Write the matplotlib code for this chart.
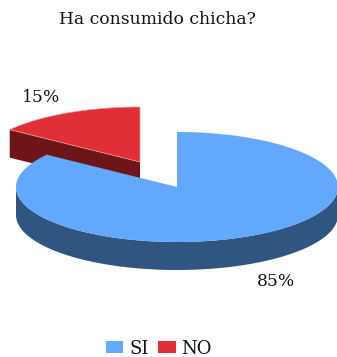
import numpy as np
import matplotlib
matplotlib.use("Agg")
import matplotlib.pyplot as plt
from matplotlib.patches import Polygon, Patch

title = "Ha consumido chicha?"
categories = ["SI", "NO"]
percent_values = [85, 15]
label_texts = ["85%", "15%"]
top_colors = ["#62a8ff", "#e02f36"]
side_colors = ["#2f5580", "#6e1518"]

RX = 161
RY = 55
DEPTH = 28
CENTER_SI = (177, 187)
CENTER_NO = (140, 162)


def rim(center, start, end):
    # angles in degrees, clockwise from 12 o'clock
    a = np.radians(np.linspace(start, end, 240))
    return np.column_stack([center[0] + RX * np.sin(a), center[1] - RY * np.cos(a)])


fig = plt.figure(figsize=(3.37, 3.57), dpi=100)
ax = fig.add_axes([0, 0, 1, 1])
ax.set_xlim(0, 337)
ax.set_ylim(357, 0)
ax.axis("off")

si_sweep = percent_values[0] * 3.6

# NO slice sits behind, pulled up and to the left
no_rim = rim(CENTER_NO, si_sweep, 360)
no_apex = np.array([CENTER_NO])
cut = np.vstack([no_rim[:1], no_apex])
cut_low = cut + [0, DEPTH]
ax.add_patch(Polygon(np.vstack([cut, cut_low[::-1]]), closed=True,
                     facecolor=side_colors[1], edgecolor="none", zorder=1))
ax.add_patch(Polygon(np.vstack([no_apex, no_rim]), closed=True,
                     facecolor=top_colors[1], edgecolor="#ee9a9e", linewidth=0.5, zorder=2))

# SI slice: front wall first, then the top face
si_rim = rim(CENTER_SI, 0, si_sweep)
front = rim(CENTER_SI, 90, 270)
ax.add_patch(Polygon(np.vstack([front, (front + [0, DEPTH])[::-1]]), closed=True,
                     facecolor=side_colors[0], edgecolor="none", zorder=3))
ax.add_patch(Polygon(np.vstack([[CENTER_SI], si_rim]), closed=True,
                     facecolor=top_colors[0], edgecolor="none", zorder=4))

text_font = "DejaVu Serif"
ax.text(157.5, 19, title, family=text_font, fontsize=12.3, ha="center", va="center", color="#111111")
ax.text(275.5, 281, label_texts[0], family=text_font, fontsize=12.3, ha="center", va="center", color="#111111")
ax.text(40.5, 97, label_texts[1], family=text_font, fontsize=12.3, ha="center", va="center", color="#111111")

handles = [Patch(facecolor=c, edgecolor="none") for c in top_colors]
ax.legend(handles, categories, ncol=2, frameon=False, loc="center",
          bbox_to_anchor=(159 / 337, 1 - 348.5 / 357),
          prop={"family": text_font, "size": 13},
          handlelength=0.95, handleheight=0.65, handletextpad=0.33, columnspacing=0.55,
          labelcolor="#111111")

fig.savefig("out.png", dpi=100)
